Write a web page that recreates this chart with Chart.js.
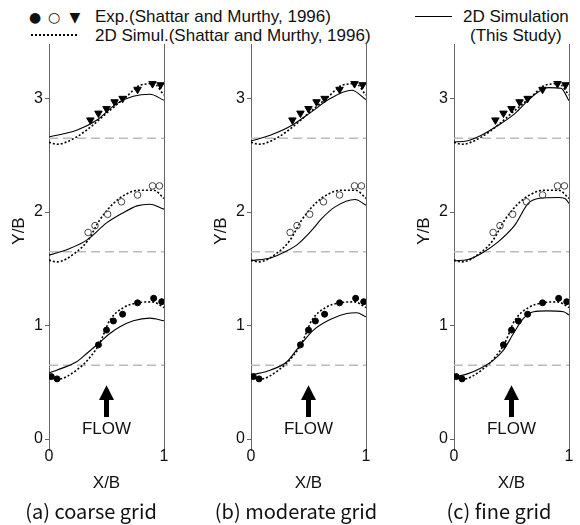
<!DOCTYPE html>
<html>
<head>
<meta charset="utf-8">
<script src="https://cdn.jsdelivr.net/npm/chart.js@4"></script>
<style>
  body { margin: 0; background: #fff; width: 580px; height: 525px; position: relative; overflow: hidden; font-family: "Liberation Sans", Arial, sans-serif; color: #111; }
  canvas { position: absolute; top: 0; }
  .t { position: absolute; white-space: nowrap; line-height: 1; }
  .leg { font-size: 17px; }
  .sym { font-family: "DejaVu Sans", sans-serif; font-size: 14px; transform: translate(-50%, -50%); }
  .ytitle { font-size: 17px; transform: translate(-50%, -50%) rotate(-90deg); }
  .cap { font-family: "Noto Sans CJK KR", "Noto Sans", sans-serif; font-size: 20px; transform: translate(-50%, -50%); }
</style>
</head>
<body>
<!-- legend -->
<div class="t sym" style="left:35px;top:17px;">&#9679;</div>
<div class="t sym" style="left:54px;top:17px;">&#9675;</div>
<div class="t sym" style="left:75px;top:17px;">&#9660;</div>
<div class="t leg" style="left:95px;top:8px;">Exp.(Shattar and Murthy, 1996)</div>
<div style="position:absolute;left:31px;top:34px;width:46px;border-top:2px dotted #000;"></div>
<div class="t leg" style="left:95px;top:27px;">2D Simul.(Shattar and Murthy, 1996)</div>
<div style="position:absolute;left:415px;top:16px;width:37px;border-top:1.5px solid #000;"></div>
<div class="t leg" style="left:463px;top:8px;">2D Simulation</div>
<div class="t leg" style="left:470px;top:27px;">(This Study)</div>

<canvas id="panelA" width="170" height="497" style="left:0px"></canvas>
<canvas id="panelB" width="170" height="497" style="left:202px"></canvas>
<canvas id="panelC" width="170" height="497" style="left:405px"></canvas>

<div class="t ytitle" style="left:18px;top:231px;">Y/B</div>
<div class="t ytitle" style="left:220px;top:231px;">Y/B</div>
<div class="t ytitle" style="left:423px;top:231px;">Y/B</div>

<div class="t cap" style="left:91px;top:511px;">(a) coarse grid</div>
<div class="t cap" style="left:296px;top:511px;">(b) moderate grid</div>
<div class="t cap" style="left:499px;top:511px;">(c) fine grid</div>

<script>
// axis ticks
var xTicks = [0, 1];
var yTicks = [0, 1, 2, 3];
var baseLevels = [0.65, 1.65, 2.65];

// experiment (Shattar and Murthy, 1996)
var expBottomX = [0.02, 0.07, 0.43, 0.50, 0.56, 0.64, 0.77, 0.91, 0.98];
var expBottomY = [0.55, 0.53, 0.83, 0.96, 1.04, 1.10, 1.20, 1.24, 1.21];
var expMiddleX = [0.34, 0.40, 0.51, 0.63, 0.77, 0.90, 0.96];
var expMiddleY = [1.82, 1.88, 1.98, 2.09, 2.15, 2.23, 2.23];
var expTopX = [0.36, 0.43, 0.50, 0.57, 0.64, 0.77, 0.90, 0.97];
var expTopY = [2.81, 2.87, 2.91, 2.97, 3.00, 3.08, 3.13, 3.12];

// 2D simulation (Shattar and Murthy, 1996), dotted
var refBottomX = [0, 0.07, 0.24, 0.36, 0.44, 0.53, 0.65, 0.77, 0.90, 1.0];
var refBottomY = [0.555, 0.525, 0.607, 0.724, 0.842, 1.048, 1.159, 1.200, 1.208, 1.159];
var refMiddleX = [0, 0.07, 0.24, 0.34, 0.44, 0.56, 0.67, 0.79, 0.91, 1.0];
var refMiddleY = [1.576, 1.561, 1.649, 1.752, 1.928, 2.075, 2.157, 2.192, 2.192, 2.12];
var refTopX = [0, 0.07, 0.24, 0.39, 0.53, 0.67, 0.79, 0.91, 1.0];
var refTopY = [2.614, 2.597, 2.661, 2.773, 2.896, 3.013, 3.116, 3.13, 3.03];

// 2D simulation (this study), solid - coarse grid
var coarseBottomX = [0, 0.067, 0.24, 0.328, 0.43, 0.53, 0.617, 0.733, 0.878, 1.0];
var coarseBottomY = [0.584, 0.607, 0.681, 0.754, 0.842, 0.93, 0.989, 1.042, 1.065, 1.042];
var coarseMiddleX = [0, 0.17, 0.328, 0.501, 0.632, 0.765, 0.878, 1.0];
var coarseMiddleY = [1.62, 1.675, 1.752, 1.904, 1.986, 2.054, 2.069, 2.025];
var coarseTopX = [0, 0.24, 0.414, 0.588, 0.733, 0.878, 1.0];
var coarseTopY = [2.661, 2.72, 2.808, 2.955, 3.019, 3.037, 2.984];

// moderate grid
var moderateBottomX = [0, 0.167, 0.312, 0.428, 0.543, 0.688, 0.832, 0.919, 1.0];
var moderateBottomY = [0.563, 0.607, 0.681, 0.827, 0.96, 1.053, 1.106, 1.112, 1.077];
var moderateMiddleX = [0, 0.182, 0.297, 0.413, 0.529, 0.616, 0.731, 0.905, 1.0];
var moderateMiddleY = [1.57, 1.60, 1.649, 1.722, 1.84, 1.943, 2.045, 2.11, 2.06];
var moderateTopX = [0, 0.167, 0.341, 0.514, 0.688, 0.876, 1.0];
var moderateTopY = [2.625, 2.676, 2.755, 2.873, 2.999, 3.072, 2.99];

// fine grid
var fineBottomX = [0, 0.11, 0.227, 0.343, 0.43, 0.517, 0.604, 0.692, 0.808, 0.953, 1.0];
var fineBottomY = [0.548, 0.572, 0.622, 0.695, 0.783, 0.93, 1.062, 1.121, 1.129, 1.121, 1.092];
var fineMiddleX = [0, 0.122, 0.238, 0.384, 0.529, 0.645, 0.732, 0.907, 0.965, 1.0];
var fineMiddleY = [1.57, 1.582, 1.635, 1.737, 1.884, 2.075, 2.119, 2.128, 2.12, 2.075];
var fineTopX = [0, 0.11, 0.238, 0.384, 0.529, 0.645, 0.732, 0.82, 0.93, 1.0];
var fineTopY = [2.617, 2.625, 2.676, 2.764, 2.867, 2.984, 3.057, 3.096, 3.09, 2.98];

// flow arrow annotation (data units)
var flowX = 0.5;
var arrowTipY = 0.475, arrowHeadY = 0.343, arrowTailY = 0.194, flowLabelY = 0.088;

function pts(xs, ys) {
  return xs.map(function(x, i) { return { x: x, y: ys[i] }; });
}

var axisColor = '#666';
var tickFont = { family: '"Liberation Sans", Arial, sans-serif', size: 16 };

var flowArrow = {
  id: 'flowArrow',
  afterDatasetsDraw: function(chart) {
    var ctx = chart.ctx, sx = chart.scales.x, sy = chart.scales.y;
    var cx = sx.getPixelForValue(flowX);
    var tip = sy.getPixelForValue(arrowTipY);
    var head = sy.getPixelForValue(arrowHeadY);
    var tail = sy.getPixelForValue(arrowTailY);
    ctx.save();
    ctx.fillStyle = '#000';
    ctx.fillRect(cx - 2.5, head - 1, 5, tail - head + 1);
    ctx.beginPath();
    ctx.moveTo(cx, tip);
    ctx.lineTo(cx - 7.5, head);
    ctx.lineTo(cx + 7.5, head);
    ctx.closePath();
    ctx.fill();
    ctx.font = '17px "Liberation Sans", Arial, sans-serif';
    ctx.textAlign = 'center';
    ctx.textBaseline = 'middle';
    ctx.fillStyle = '#111';
    ctx.fillText('FLOW', cx, sy.getPixelForValue(flowLabelY));
    ctx.restore();
  }
};

function drawPanel(id, solidSets) {
  var datasets = [
    { data: pts(expBottomX, expBottomY), pointStyle: 'circle', radius: 3, backgroundColor: '#000', borderColor: '#000', showLine: false },
    { data: pts(expMiddleX, expMiddleY), pointStyle: 'circle', radius: 3.3, backgroundColor: 'rgba(0,0,0,0)', borderColor: '#444', borderWidth: 1, showLine: false },
    { data: pts(expTopX, expTopY), pointStyle: 'triangle', rotation: 180, radius: 4.3, backgroundColor: '#000', borderColor: '#000', showLine: false }
  ];
  solidSets.forEach(function(s) {
    datasets.push({ data: pts(s[0], s[1]), showLine: true, borderColor: '#000', borderWidth: 1.1, pointRadius: 0, cubicInterpolationMode: 'monotone' });
  });
  [[refBottomX, refBottomY], [refMiddleX, refMiddleY], [refTopX, refTopY]].forEach(function(s) {
    datasets.push({ data: pts(s[0], s[1]), showLine: true, borderColor: '#000', borderWidth: 1.6, borderDash: [2, 2], pointRadius: 0, cubicInterpolationMode: 'monotone' });
  });
  baseLevels.forEach(function(v) {
    datasets.push({ data: pts(xTicks, [v, v]), showLine: true, borderColor: '#bbb', borderWidth: 1.5, borderDash: [9, 5], pointRadius: 0 });
  });

  new Chart(document.getElementById(id), {
    type: 'scatter',
    data: { datasets: datasets },
    plugins: [flowArrow],
    options: {
      responsive: false,
      animation: false,
      layout: { padding: { top: 44, right: 6, left: 0, bottom: 0 } },
      plugins: { legend: { display: false }, tooltip: { enabled: false } },
      scales: {
        x: {
          type: 'linear', min: 0, max: 1,
          afterFit: function(s) { s.height = 50; },
          afterBuildTicks: function(s) { s.ticks = xTicks.map(function(v) { return { value: v }; }); },
          grid: { color: axisColor, lineWidth: 1, drawOnChartArea: true, tickLength: 4 },
          border: { display: false },
          ticks: { font: tickFont, color: '#111', padding: -4, maxRotation: 0 },
          title: { display: true, text: 'X/B', color: '#111', font: { family: '"Liberation Sans", Arial, sans-serif', size: 17 }, padding: { top: 0, bottom: 3 } }
        },
        y: {
          type: 'linear', min: -0.07, max: 3.48,
          afterFit: function(s) { s.width = 49; },
          afterBuildTicks: function(s) { s.ticks = yTicks.map(function(v) { return { value: v }; }); },
          grid: { color: axisColor, drawOnChartArea: false, tickLength: 4 },
          border: { display: true, color: axisColor, width: 1 },
          ticks: { font: tickFont, color: '#111', padding: 2 }
        }
      }
    }
  });
}

drawPanel('panelA', [[coarseBottomX, coarseBottomY], [coarseMiddleX, coarseMiddleY], [coarseTopX, coarseTopY]]);
drawPanel('panelB', [[moderateBottomX, moderateBottomY], [moderateMiddleX, moderateMiddleY], [moderateTopX, moderateTopY]]);
drawPanel('panelC', [[fineBottomX, fineBottomY], [fineMiddleX, fineMiddleY], [fineTopX, fineTopY]]);
</script>
</body>
</html>
